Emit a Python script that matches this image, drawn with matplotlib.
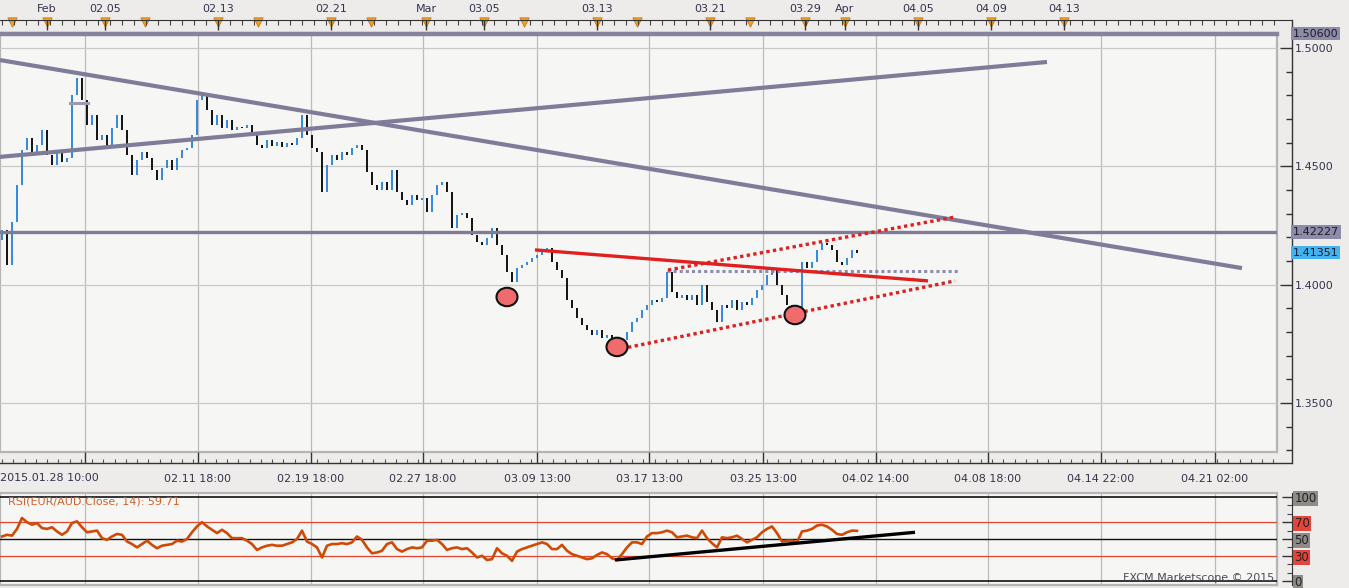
import numpy as np
import matplotlib.pyplot as plt
import matplotlib.transforms as mtransforms
from matplotlib.patches import Ellipse
from matplotlib.ticker import FixedLocator, MultipleLocator

W, H = 1349, 588

# ---- data (bar index = one candle) ----
first_open = 1.4190
closes = [
    1.4231, 1.4083, 1.4265, 1.4421, 1.4569, 1.4620, 1.4548, 1.4590, 1.4654, 1.4548,
    1.4506, 1.4569, 1.4518, 1.4535, 1.4801, 1.4873, 1.4780, 1.4675, 1.4717, 1.4611,
    1.4632, 1.4577, 1.4662, 1.4717, 1.4654, 1.4548, 1.4463, 1.4527, 1.4561, 1.4535,
    1.4485, 1.4442, 1.4493, 1.4527, 1.4485, 1.4535, 1.4569, 1.4577, 1.4632, 1.4780,
    1.4801, 1.4738, 1.4675, 1.4717, 1.4662, 1.4696, 1.4654, 1.4666, 1.4662, 1.4675,
    1.4645, 1.4590, 1.4577, 1.4611, 1.4586, 1.4603, 1.4582, 1.4599, 1.4590, 1.4620,
    1.4717, 1.4632, 1.4577, 1.4561, 1.4392, 1.4506, 1.4548, 1.4527, 1.4561, 1.4548,
    1.4577, 1.4590, 1.4569, 1.4476, 1.4421, 1.4400, 1.4434, 1.4400, 1.4485, 1.4392,
    1.4358, 1.4337, 1.4379, 1.4358, 1.4366, 1.4307, 1.4379, 1.4421, 1.4434, 1.4392,
    1.4240, 1.4294, 1.4303, 1.4282, 1.4210, 1.4180, 1.4168, 1.4197, 1.4240, 1.4168,
    1.4125, 1.4054, 1.4011, 1.4071, 1.4083, 1.4096, 1.4113, 1.4125, 1.4147, 1.4155,
    1.4096, 1.4062, 1.4028, 1.3935, 1.3901, 1.3859, 1.3830, 1.3809, 1.3787, 1.3809,
    1.3775, 1.3787, 1.3758, 1.3733, 1.3766, 1.3800, 1.3842, 1.3859, 1.3893, 1.3914,
    1.3935, 1.3927, 1.3944, 1.4054, 1.3969, 1.3944, 1.3956, 1.3935, 1.3956, 1.3914,
    1.3999, 1.3927, 1.3893, 1.3842, 1.3914, 1.3901, 1.3935, 1.3893, 1.3927, 1.3914,
    1.3944, 1.3978, 1.3999, 1.4041, 1.4071, 1.3999, 1.3956, 1.3914, 1.3893, 1.3901,
    1.4096, 1.4071, 1.4096, 1.4147, 1.4176, 1.4168, 1.4147, 1.4096, 1.4083, 1.4113,
    1.4147, 1.41351,
]
rsi = [
    53, 55, 54, 62, 75, 70, 67, 69, 63, 62, 64, 59, 55, 59, 69, 71, 64, 58, 59, 60,
    51, 49, 53, 56, 55, 47, 44, 40, 44, 48, 43, 39, 42, 43, 44, 48, 47, 50, 58, 65,
    70, 65, 61, 57, 61, 57, 51, 51, 51, 48, 44, 37, 40, 42, 43, 42, 42, 44, 46, 50,
    60, 47, 44, 40, 28, 42, 44, 44, 45, 44, 46, 53, 49, 40, 33, 34, 36, 44, 46, 38,
    35, 38, 40, 39, 40, 48, 48, 49, 44, 37, 39, 40, 38, 39, 34, 28, 30, 25, 26, 39,
    33, 30, 24, 35, 38, 40, 42, 44, 46, 44, 38, 38, 43, 36, 32, 30, 28, 26, 27, 31,
    34, 32, 27, 25, 32, 40, 46, 46, 44, 53, 57, 57, 58, 60, 58, 52, 53, 54, 52, 51,
    60, 51, 45, 40, 52, 51, 52, 54, 50, 46, 49, 52, 58, 62, 65, 57, 47, 48, 48, 46,
    59, 60, 62, 66, 67, 65, 61, 56, 55, 58, 60, 59.71,
]

# drawn objects: (bar, price) end points
desc_line = [(-0.4, 1.4949), (248.0, 1.4070)]
asc_line = [(-0.4, 1.4540), (209.0, 1.4941)]
red_line = [(106.6, 1.4147), (185.2, 1.4016)]
red_dot_upper = [(133.2, 1.4062), (190.6, 1.4286)]
red_dot_lower = [(122.6, 1.3724), (190.6, 1.4016)]
grey_dot = [(133.0, 1.4058), (191.2, 1.4058)]
short_grey = [(13.6, 1.4766), (17.2, 1.4766)]
level_top = 1.5060
level_mid = 1.42227
last_price = 1.41351
circles = [(101.0, 1.3948), (123.0, 1.3737), (158.6, 1.3872)]
rsi_trend = [(122.6, 25), (182.6, 58)]

grid_bars = [16.6, 39.2, 61.8, 84.2, 107.0, 129.4, 152.2, 174.8, 197.2, 219.8, 242.6]
bottom_labels = ['', '02.11 18:00', '02.19 18:00', '02.27 18:00', '03.09 13:00',
                 '03.17 13:00', '03.25 13:00', '04.02 14:00', '04.08 18:00',
                 '04.14 22:00', '04.21 02:00']
first_label = '2015.01.28 10:00'
top_bars = [9.0, 20.6, 43.2, 65.8, 84.8, 96.4, 119.0, 141.6, 160.6, 168.6, 183.2, 197.8, 212.4]
top_labels = ['Feb', '02.05', '02.13', '02.21', 'Mar', '03.05', '03.13', '03.21',
              '03.29', 'Apr', '04.05', '04.09', '04.13']
marker_bars = [2.0, 9.0, 20.6, 28.6, 43.2, 51.2, 65.8, 73.8, 84.8, 96.4, 104.4, 119.0,
               127.0, 141.6, 149.6, 160.6, 168.6, 183.2, 197.8, 212.4]
price_ticks = [1.35, 1.40, 1.45, 1.50]
rsi_levels = [0, 30, 50, 70, 100]

TXT = '#33334d'
FIG_BG = '#edeceb'
PLOT_BG = '#f6f6f4'
GRID = '#bcbcbc'
PURPLE = '#7f7c99'

plt.rcParams['font.family'] = 'DejaVu Sans'
plt.rcParams['font.size'] = 8

fig = plt.figure(figsize=(W / 100, H / 100), dpi=100, facecolor=FIG_BG)
ax = fig.add_axes([0, (H - 452) / H, 1277 / W, (452 - 33) / H])
rx = fig.add_axes([0, (H - 585) / H, 1277 / W, (585 - 493) / H])

xlim = (-0.4, 255.0)

# ---------------- price panel ----------------
ax.set_facecolor(PLOT_BG)
ax.patch.set_edgecolor('#b5b5b5')
ax.patch.set_linewidth(1.6)
ax.set_xlim(*xlim)
ax.set_ylim(1.32931, 1.50634)

for gx in grid_bars:
    ax.axvline(gx, color=GRID, lw=0.9, zorder=0)
for gy in price_ticks:
    ax.axhline(gy, color='#c8c8c8', lw=0.9, zorder=0)

# candles: open = previous close
x = np.arange(len(closes))
c = np.array(closes)
o = np.concatenate([[first_open], c[:-1]])
up = c >= o
ax.vlines(x[up], o[up], c[up], color='#3388dc', lw=1.4, zorder=3)
ax.vlines(x[~up], o[~up], c[~up], color='#111111', lw=1.4, zorder=3)

# trend lines
for seg in (desc_line, asc_line):
    ax.plot(*zip(*seg), color=PURPLE, lw=3.0, solid_capstyle='butt', zorder=4)
ax.plot(*zip(*short_grey), color='#9c9ab0', lw=2.2, zorder=4)
ax.axhline(level_mid, color=PURPLE, lw=2.4, zorder=4)
ax.axhline(level_top, color='#85839d', lw=3.2, zorder=4, clip_on=False)
ax.plot(*zip(*grey_dot), color='#8a8cb2', lw=2.2, ls=(0, (1, 1)), zorder=5)
ax.plot(*zip(*red_line), color='#e01f1f', lw=2.4, solid_capstyle='butt', zorder=6)
for seg in (red_dot_upper, red_dot_lower):
    ax.plot(*zip(*seg), color='#de2020', lw=2.4, ls=(0, (1, 1)), zorder=6)
for cx, cy in circles:
    ax.add_patch(Ellipse((cx, cy), width=4.2, height=0.0078, facecolor='#f06b6b',
                         edgecolor='#111111', lw=1.5, zorder=7))

# axes / ticks
for s in ('left', 'top'):
    ax.spines[s].set_visible(False)
ax.spines['right'].set_position(('outward', 10.6))
ax.spines['bottom'].set_position(('outward', 8))
ax.spines['right'].set_bounds(1.3247, 1.5118)
ax.spines['bottom'].set_bounds(xlim[0], 257.8)
for s in ('right', 'bottom'):
    ax.spines[s].set_color('#333333')
    ax.spines[s].set_linewidth(1.0)

ax.yaxis.tick_right()
ax.yaxis.set_major_locator(FixedLocator(price_ticks))
ax.set_yticklabels(['%.4f' % v for v in price_ticks])
ax.yaxis.set_minor_locator(MultipleLocator(0.01))
ax.tick_params(axis='y', which='major', direction='in', length=9, width=1,
               pad=2, colors='#333333', labelcolor=TXT, labelsize=8)
ax.tick_params(axis='y', which='minor', direction='in', length=4, width=1, colors='#333333')

ax.xaxis.set_major_locator(FixedLocator(grid_bars))
ax.set_xticklabels(bottom_labels)
ax.xaxis.set_minor_locator(MultipleLocator(2.25))
ax.tick_params(axis='x', which='major', direction='in', length=8, width=1,
               pad=8, colors='#333333', labelcolor=TXT, labelsize=8)
ax.tick_params(axis='x', which='minor', direction='in', length=3, width=0.8, colors='#555555')
ax.text(0.0, -0.062, first_label, transform=ax.transAxes, ha='left', va='center',
        color=TXT, fontsize=8)

# right side value boxes
blend = mtransforms.blended_transform_factory(ax.transAxes, ax.transData)
box_x = 1293 / 1277
for val, txt, bg in ((level_top, '1.50600', '#8d8ba7'),
                     (level_mid, '1.42227', '#8d8ba7'),
                     (last_price, '1.41351', '#45b2f0')):
    ax.text(box_x, val, txt, transform=blend, ha='left', va='center', fontsize=8,
            color='#1a1a2a', bbox=dict(boxstyle='square,pad=0.15', fc=bg, ec='none'),
            clip_on=False)

# top date axis
at = ax.twiny()
at.set_xlim(*xlim)
for s in ('left', 'right', 'bottom'):
    at.spines[s].set_visible(False)
at.spines['top'].set_position(('outward', 9.4))
at.spines['top'].set_bounds(xlim[0], 257.8)
at.spines['top'].set_color('#333333')
at.xaxis.set_major_locator(FixedLocator(top_bars))
at.set_xticklabels(top_labels)
at.xaxis.set_minor_locator(MultipleLocator(2.4))
at.tick_params(axis='x', which='major', direction='in', length=7, width=1, pad=4,
               colors='#333333', labelcolor=TXT, labelsize=8)
at.tick_params(axis='x', which='minor', direction='in', length=3.5, width=0.8, colors='#444444')
tri_tr = mtransforms.blended_transform_factory(ax.transData, ax.transAxes)
ax.scatter(marker_bars, [1.026] * len(marker_bars), marker='v', s=45, color='#f2a21e',
           edgecolors='#c77a10', linewidths=0.6, transform=tri_tr, clip_on=False, zorder=10)

# ---------------- RSI panel ----------------
rx.set_facecolor(PLOT_BG)
rx.patch.set_edgecolor('#b5b5b5')
rx.patch.set_linewidth(1.6)
rx.set_xlim(*xlim)
rx.set_ylim(-4.8, 104.8)
for gx in grid_bars:
    rx.axvline(gx, color=GRID, lw=0.9, zorder=0)
for lv in rsi_levels:
    if lv in (30, 70):
        rx.axhline(lv, color='#e2452f', lw=0.9, zorder=1)
    else:
        rx.axhline(lv, color='#111111', lw=1.2 if lv != 50 else 1.0, zorder=1)
rx.plot(np.arange(len(rsi)), rsi, color='#cf4a06', lw=1.9, zorder=3)
rx.plot(*zip(*rsi_trend), color='#000000', lw=2.4, solid_capstyle='butt', zorder=4)

for s in ('left', 'top', 'bottom'):
    rx.spines[s].set_visible(False)
rx.spines['right'].set_position(('outward', 10.6))
rx.spines['right'].set_color('#333333')
rx.set_xticks([])
rx.yaxis.tick_right()
rx.yaxis.set_major_locator(FixedLocator(rsi_levels))
rx.set_yticklabels([str(v) for v in rsi_levels])
rx.yaxis.set_minor_locator(MultipleLocator(10))
rx.tick_params(axis='y', which='major', direction='in', length=7, width=1, pad=2,
               colors='#333333', labelcolor='#222222', labelsize=8.5)
rx.tick_params(axis='y', which='minor', direction='in', length=3.5, width=0.8, colors='#444444')
for lbl, lv in zip(rx.get_yticklabels(), rsi_levels):
    bg = '#e5443b' if lv in (30, 70) else '#8e8b87'
    lbl.set_bbox(dict(boxstyle='square,pad=0.1', fc=bg, ec='none'))

rx.text(1.2, 95.0, 'RSI(EUR/AUD.Close, 14): 59.71', color='#d0622c', fontsize=8,
        ha='left', va='center', zorder=6)
rx.text(0.998, 0.02, 'FXCM Marketscope \u00a9 2015', transform=rx.transAxes, ha='right',
        va='bottom', color='#4a4a5c', fontsize=8, zorder=6)

fig.savefig('out.png', dpi=100, facecolor=FIG_BG)
